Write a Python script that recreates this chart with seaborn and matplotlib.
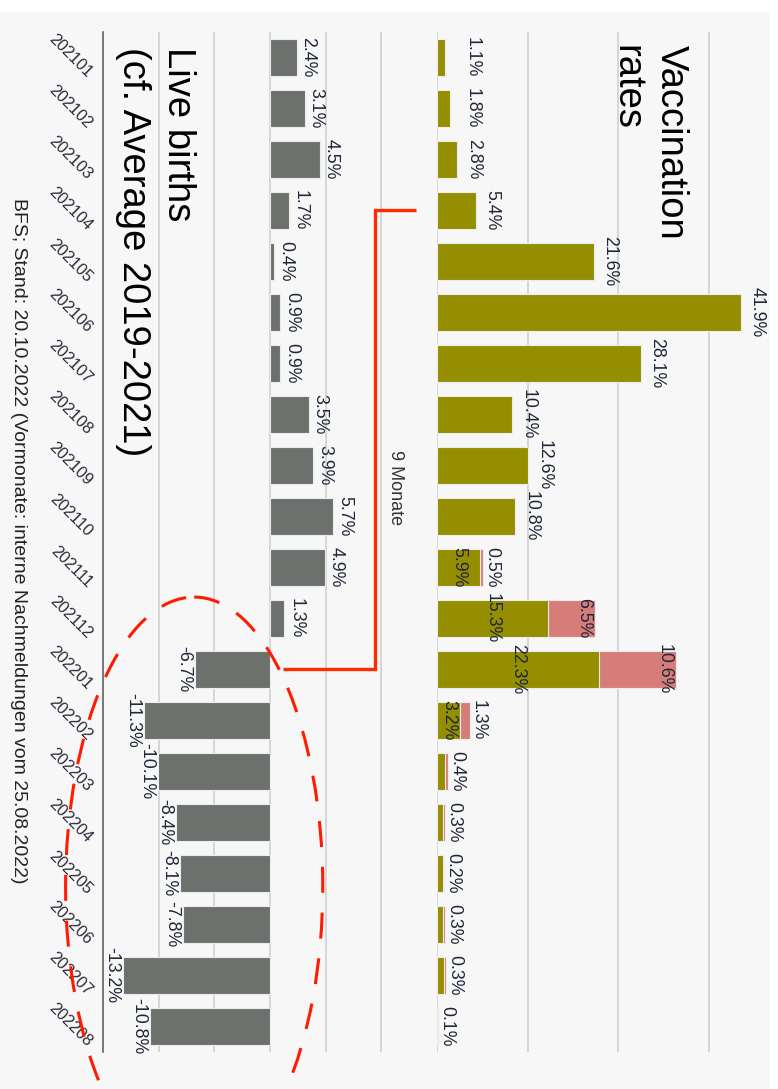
import numpy as np
import pandas as pd
import matplotlib
matplotlib.use("Agg")
import matplotlib.pyplot as plt
import matplotlib.transforms as mtransforms
from matplotlib.patches import Ellipse, Rectangle
import seaborn as sns

# ---------------- data ----------------
months = ["202101", "202102", "202103", "202104", "202105", "202106", "202107",
          "202108", "202109", "202110", "202111", "202112", "202201", "202202",
          "202203", "202204", "202205", "202206", "202207", "202208"]
vacc_primary = [1.1, 1.8, 2.8, 5.4, 21.6, 41.9, 28.1, 10.4, 12.6, 10.8,
                5.9, 15.3, 22.3, 3.2, 1.1, 0.8, 0.8, 0.8, 0.9, 0.1]
vacc_booster = [np.nan] * 10 + [0.5, 6.5, 10.6, 1.3, 0.4, 0.3, 0.2, 0.3, 0.3, 0.1]
births_change = [2.4, 3.1, 4.5, 1.7, 0.4, 0.9, 0.9, 3.5, 3.9, 5.7,
                 4.9, 1.3, -6.7, -11.3, -10.1, -8.4, -8.1, -7.8, -13.2, -10.8]

title_vacc = "Vaccination\nrates"
title_births = "Live births\n(cf. Average 2019-2021)"
bracket_label = "9 Monate"
source_text = "BFS; Stand: 20.10.2022 (Vormonate: interne Nachmeldungen vom 25.08.2022)"

# ---------------- style ----------------
OLIVE = "#948e00"
PINK = "#d67d7a"
GREY = "#6c716e"
LBL = "#1e2638"
GRID = "#cccccc"
RED = "#ff2a00"

sns.set_theme(style="white")
plt.rcParams["font.family"] = ["Liberation Sans", "DejaVu Sans"]

W, H = 778, 1089
fig = plt.figure(figsize=(W / 100, H / 100), dpi=100, facecolor="white")


def fx(px):
    return px / W


def fy(py):
    return 1 - py / H


fig.patches.append(Rectangle((0, 0), 770 / W, 1 - 12 / H, transform=fig.transFigure,
                             facecolor="#f7f7f7", edgecolor="none", zorder=-10))

top_px, bot_px = 32, 1052
ax_b = fig.add_axes([fx(103), fy(bot_px), (437 - 103) / W, (bot_px - top_px) / H])
ax_v = fig.add_axes([fx(437), fy(bot_px), (770 - 437) / W, (bot_px - top_px) / H])
for ax in (ax_b, ax_v):
    ax.set_facecolor("none")
    ax.set_axisbelow(True)

df = pd.DataFrame({"month": months, "primary": vacc_primary,
                   "booster": vacc_booster, "births": births_change})
df["booster_plot"] = df["booster"].fillna(0)
df["total"] = df["primary"] + df["booster_plot"]

bar_kw = dict(width=0.74, edgecolor="#ececec", linewidth=0.8, saturation=1,
              orient="h", errorbar=None)
sns.barplot(data=df, y="month", x="births", color=GREY, ax=ax_b, **bar_kw)
sns.barplot(data=df, y="month", x="total", color=PINK, ax=ax_v, **bar_kw)
sns.barplot(data=df, y="month", x="primary", color=OLIVE, ax=ax_v, **bar_kw)

# ---------------- axes ----------------
n = len(months)
ax_b.set_xlim(-15, 15)
ax_v.set_xlim(0, 333 / 7.25)
for ax in (ax_b, ax_v):
    ax.set_ylim(n - 0.5, -0.5)
    ax.set_xlabel("")
    ax.set_ylabel("")
    ax.xaxis.grid(True, color=GRID, lw=1.1)
    ax.yaxis.grid(False)
    ax.tick_params(axis="x", length=0, labelbottom=False)
    for s in ax.spines.values():
        s.set_visible(False)
ax_b.set_xticks([-10, -5, 0, 5, 10])
ax_v.set_xticks([0, 12.5, 25, 37.5])
ax_v.tick_params(axis="y", length=0, labelleft=False)

ax_b.spines["left"].set_visible(True)
ax_b.spines["left"].set_color("#555555")
ax_b.spines["left"].set_linewidth(1.1)

ax_b.set_yticks(range(n))
ax_b.set_yticklabels(months, rotation=-45, ha="right", va="center",
                     rotation_mode="anchor", fontsize=11.6, color="#2a2a3a")
ax_b.tick_params(axis="y", length=0, pad=9.5)
off = mtransforms.ScaledTranslation(0, -18 / 100, fig.dpi_scale_trans)
for lab in ax_b.get_yticklabels():
    lab.set_transform(lab.get_transform() + off)

# ---------------- value labels ----------------
lab_kw = dict(rotation=-90, va="center", fontsize=12.8, color=LBL, zorder=6)
for i, v in enumerate(births_change):
    if v >= 0:
        ax_b.text(v + 0.25, i, f"{v:.1f}%", ha="left", **lab_kw)
    else:
        ax_b.text(v - 0.25, i, f"{v:.1f}%", ha="right", **lab_kw)

for i, (p, b) in enumerate(zip(vacc_primary, vacc_booster)):
    if np.isnan(b):
        ax_v.text(max(p + 2.2, 4.8), i, f"{p:.1f}%", ha="center", **lab_kw)
    else:
        if p >= 2:
            ax_v.text(p / 2, i, f"{p:.1f}%", ha="center", **lab_kw)
        tot = p + b
        xb = tot - 1.6 if b >= 3 else tot + 1.2
        ax_v.text(xb, i, f"{b:.1f}%", ha="center", **lab_kw)

# ---------------- annotations ----------------
ax_b.plot([13.08, 9.41, 9.41, 1.16], [3, 3, 12, 12], color=RED, lw=2.4,
          clip_on=False, solid_joinstyle="miter", solid_capstyle="butt", zorder=7)
ax_b.text(11.3, 8.44, bracket_label, rotation=-90, ha="center", va="center",
          fontsize=13, color="#333333")

ell = Ellipse((-6.81, 16.26), 23.1, 11.36, fill=False, edgecolor="#ff1a00",
              lw=2.2, linestyle=(0, (8.5, 6.5)), clip_on=False, zorder=8)
ax_b.add_patch(ell)
ax_b.set_xlim(-15, 15)
ax_b.set_ylim(n - 0.5, -0.5)

# ---------------- titles ----------------
fig.text(fx(689), fy(45), title_vacc, rotation=-90, ha="right", va="top",
         fontsize=27.5, multialignment="left", linespacing=1.32, color="black")
fig.text(fx(196), fy(47), title_births, rotation=-90, ha="right", va="top",
         fontsize=27.5, multialignment="left", linespacing=1.32, color="black")
fig.text(fx(18), fy(541), source_text, rotation=-90, ha="center", va="center",
         fontsize=14, color="#222222")

fig.savefig("out.png", dpi=100, facecolor=fig.get_facecolor())
